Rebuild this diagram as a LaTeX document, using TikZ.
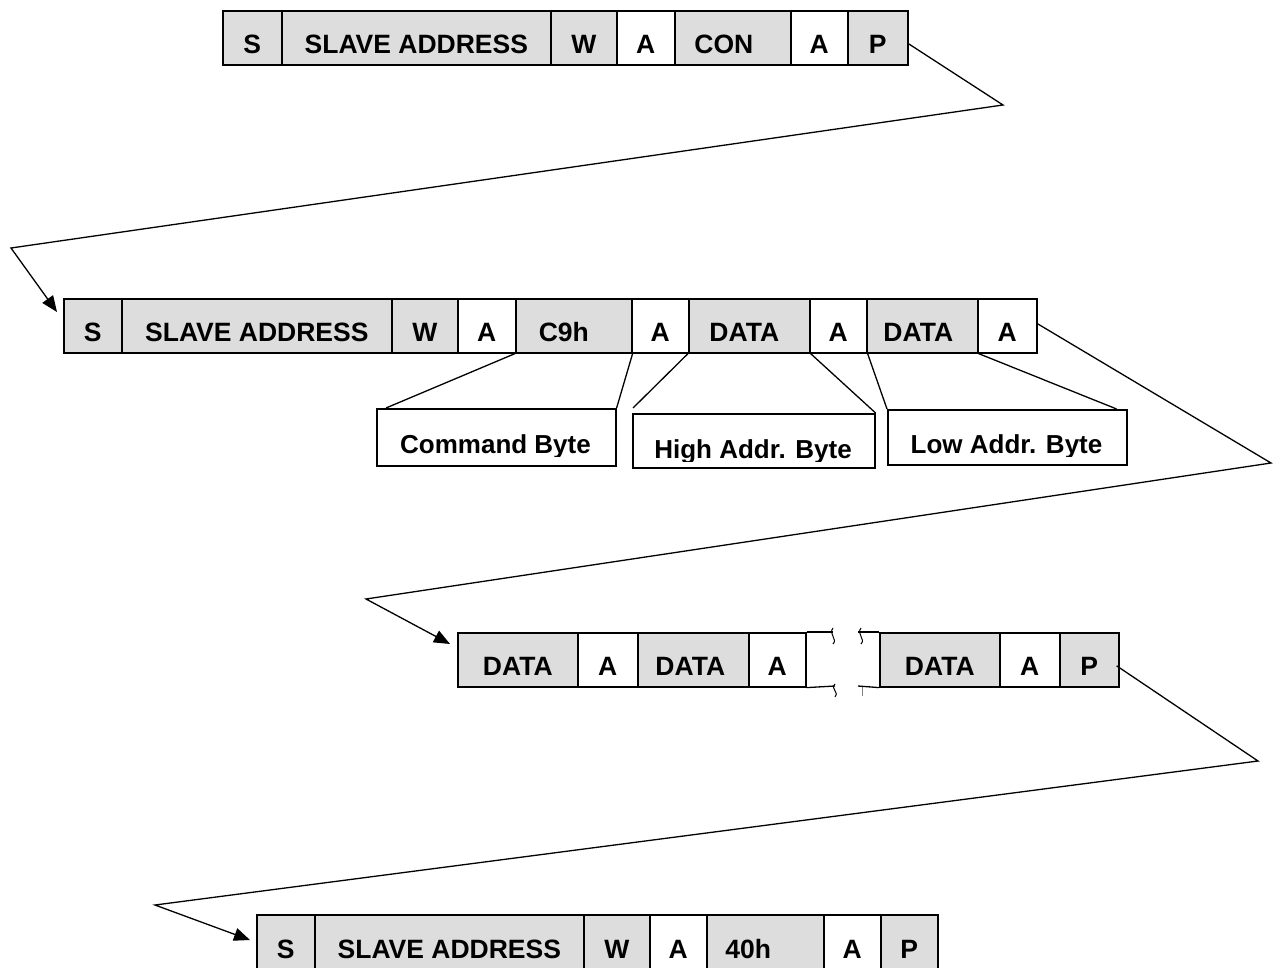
\documentclass[tikz,border=0pt]{standalone}
\usepackage{fontspec}
\setmainfont{Liberation Sans}
\usetikzlibrary{arrows.meta,calc}
\definecolor{cellgray}{HTML}{DDDDDD}
\begin{document}
\begin{tikzpicture}[x=1pt,y=-1pt,
  cellbase/.style={draw=black, line width=1.6pt, minimum height=54pt, inner sep=0pt,
    text height=31pt, text depth=0pt, anchor=north west,
    font=\fontsize{26.5pt}{30pt}\selectfont\bfseries},
  gcell/.style={cellbase, fill=cellgray},
  wcell/.style={cellbase, fill=white},
  lblbox/.style={draw=black, line width=1.6pt, fill=white, inner sep=0pt, anchor=north west},
  lbltext/.style={inner sep=0pt, anchor=base, font=\fontsize{26pt}{30pt}\selectfont\bfseries},
  conn/.style={draw=black, line width=1.3pt},
  arr/.style={conn, -{Triangle[length=16pt,width=13pt]}},
  brk/.style={draw=black, line width=1.3pt}
]
\useasboundingbox (0,0) rectangle (1273,968);
\clip (0,0) rectangle (1273,968);

% ---------- Row 1 ----------
\node[gcell, minimum width=59pt]  (r1s)    at (222,10) {S};
\node[gcell, minimum width=269pt] (r1addr) at (281,10) {SLAVE ADDRESS};
\node[gcell, minimum width=66pt]  (r1w)    at (550,10) {W};
\node[wcell, minimum width=58pt]  (r1a1)   at (616,10) {A};
\node[gcell, minimum width=116pt] (r1con)  at (674,10) {CON\hspace*{18pt}};
\node[wcell, minimum width=57pt]  (r1a2)   at (790,10) {A};
\node[gcell, minimum width=60pt]  (r1p)    at (847,10) {P};

% ---------- Row 2 ----------
\node[gcell, minimum width=58pt]  (r2s)    at (63,298)  {S};
\node[gcell, minimum width=270pt] (r2addr) at (121,298) {SLAVE ADDRESS};
\node[gcell, minimum width=66pt]  (r2w)    at (391,298) {W};
\node[wcell, minimum width=58pt]  (r2a1)   at (457,298) {A};
\node[gcell, minimum width=116pt] (r2cmd)  at (515,298) {C9h\hspace*{20pt}};
\node[wcell, minimum width=57pt]  (r2a2)   at (631,298) {A};
\node[gcell, minimum width=121pt] (r2d1)   at (688,298) {DATA\hspace*{10pt}};
\node[wcell, minimum width=57pt]  (r2a3)   at (809,298) {A};
\node[gcell, minimum width=111pt] (r2d2)   at (866,298) {DATA\hspace*{8pt}};
\node[wcell, minimum width=59pt]  (r2a4)   at (977,298) {A};

% label boxes
\node[lblbox, minimum width=239pt, minimum height=57pt] (lcmd)  at (376,408) {};
\node[lblbox, minimum width=242pt, minimum height=54pt] (lhigh) at (632,413) {};
\node[lblbox, minimum width=239pt, minimum height=55pt] (llow)  at (887,409) {};
\begin{scope}
  \clip (376,408) rectangle (615,456.5);
  \node[lbltext] (tcmd) at (495.5,453.5) {Command Byte};
\end{scope}
\begin{scope}
  \clip (632,413) rectangle (874,461.5);
  \node[lbltext] (thigh) at (753,458.5) {High Addr. Byte};
\end{scope}
\begin{scope}
  \clip (887,409) rectangle (1126,456.5);
  \node[lbltext] (tlow) at (1006.5,453.5) {Low Addr. Byte};
\end{scope}

% label connectors
\draw[conn] (r2cmd.south west) -- ($(lcmd.north west)+(10,0)$);
\draw[conn] (r2cmd.south east) -- (lcmd.north east);
\draw[conn] (r2d1.south west) -- ($(lhigh.north west)+(1,-5)$);
\draw[conn] (r2d1.south east) -- (lhigh.north east);
\draw[conn] (r2a3.south east) -- (llow.north west);
\draw[conn] (r2d2.south east) -- ($(llow.north east)+(-11,0)$);

% ---------- Row 3 ----------
\node[gcell, minimum width=120pt] (r3d1) at (457,632) {DATA};
\node[wcell, minimum width=60pt]  (r3a1) at (577,632) {A};
\node[gcell, minimum width=111pt] (r3d2) at (637,632) {DATA\hspace*{6pt}};
\node[wcell, minimum width=57pt]  (r3a2) at (748,632) {A};
\node[gcell, minimum width=120pt] (r3d3) at (879,632) {DATA};
\node[wcell, minimum width=60pt]  (r3a3) at (999,632) {A};
\node[gcell, minimum width=59pt]  (r3p)  at (1059,632) {P};

% break marks
\coordinate (bTL) at (833,632);
\coordinate (bBL) at (835,686);
\coordinate (bTR) at (858,632);
\coordinate (bBR) at (858,686);
\draw[brk] (r3a2.north east) -- (bTL);
\draw[brk] (r3a2.south east) -- (bBL);
\draw[brk] (bTR) -- (r3d3.north west);
\draw[brk] (bBR) -- (r3d3.south west);
\draw[brk, line width=1pt] (833,628) .. controls (828,634) and (838,639) .. (833,644);
\draw[brk, line width=1pt] (835,684) .. controls (830,689) and (840,693) .. (835,697);
\draw[brk, line width=1pt] (861,628) .. controls (856,634) and (866,639) .. (861,644);
\draw[draw=gray, line width=0.6pt] (862,687) -- (862,696);

% ---------- Row 4 ----------
\node[gcell, minimum width=58pt, minimum height=56pt]  (r4s)    at (256,914) {S};
\node[gcell, minimum width=269pt, minimum height=56pt] (r4addr) at (314,914) {SLAVE ADDRESS};
\node[gcell, minimum width=66pt, minimum height=56pt]  (r4w)    at (583,914) {W};
\node[wcell, minimum width=57pt, minimum height=56pt]  (r4a1)   at (649,914) {A};
\node[gcell, minimum width=117pt, minimum height=56pt] (r4cmd)  at (706,914) {40h\hspace*{34pt}};
\node[wcell, minimum width=57pt, minimum height=56pt]  (r4a2)   at (823,914) {A};
\node[gcell, minimum width=57pt, minimum height=56pt]  (r4p)    at (880,914) {P};

% ---------- Flow connectors ----------
\coordinate (k1) at (1003,105);
\coordinate (k2) at (11,248);
\coordinate (t2) at (57,312);
\draw[arr] ($(r1p.east)+(0,6)$) -- (k1) -- (k2) -- (t2);

\coordinate (k3) at (1271,463);
\coordinate (k4) at (366,599);
\coordinate (t3) at (450,644);
\draw[arr] ($(r2a4.east)+(0,-2)$) -- (k3) -- (k4) -- (t3);

\coordinate (k5) at (1258,761);
\coordinate (k6) at (155,905);
\coordinate (t4) at (250,940);
\draw[arr] ($(r3p.east)+(-3,6)$) -- (k5) -- (k6) -- (t4);
\end{tikzpicture}
\end{document}
